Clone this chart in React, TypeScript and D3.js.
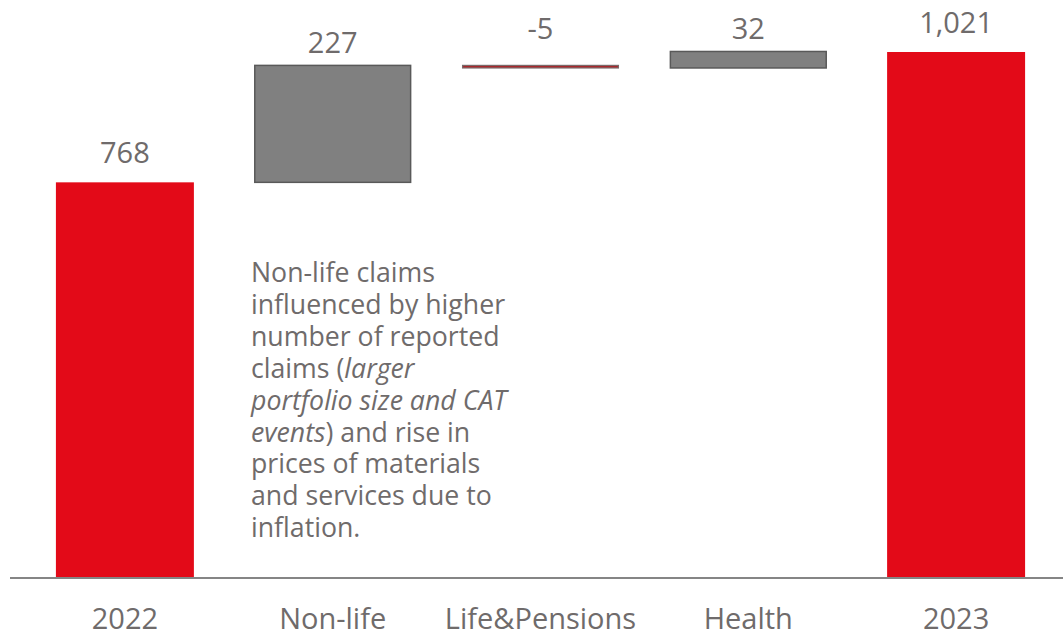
import React from "react";
import * as d3 from "d3";

const categories = ["2022", "Non-life", "Life&Pensions", "Health", "2023"];
const kinds = ["total", "delta", "delta", "delta", "total"];
const values = [768, 227, -5, 32, 1021];
const valueLabels = ["768", "227", "-5", "32", "1,021"];
const noteLines: { text: string; italic: boolean }[][] = [
  [{ text: "Non-life claims", italic: false }],
  [{ text: "influenced by higher", italic: false }],
  [{ text: "number of reported", italic: false }],
  [{ text: "claims (", italic: false }, { text: "larger", italic: true }],
  [{ text: "portfolio size and CAT", italic: true }],
  [{ text: "events", italic: true }, { text: ") and rise in", italic: false }],
  [{ text: "prices of materials", italic: false }],
  [{ text: "and services due to", italic: false }],
  [{ text: "inflation.", italic: false }],
];

const W = 1063;
const H = 635;
const FONT = "'Open Sans', sans-serif";
const RED = "#E30A18";
const GREY = "#808080";
const TEXT = "#6F6B6B";

export default function App() {
  const x = d3.scaleBand<string>().domain(categories).range([21, 1060]);
  const y = d3.scaleLinear().domain([0, 1021]).range([578, 52]);

  let running = 0;
  const bars = categories.map((c, i) => {
    let lo: number, hi: number;
    if (kinds[i] === "total") {
      lo = 0;
      hi = values[i];
      running = values[i];
    } else {
      const start = running;
      running = running + values[i];
      lo = Math.min(start, running);
      hi = Math.max(start, running);
    }
    const bw = x.bandwidth() * (kinds[i] === "total" ? 0.664 : 0.75);
    const cx = (x(c) as number) + x.bandwidth() / 2;
    return { c, i, lo, hi, bw, cx };
  });

  return (
    <svg width={W} height={H} style={{ display: "block", position: "absolute", left: 0, top: 0 }}>
      <rect width={W} height={H} fill="#fff" />
      {bars.map((b) => {
        const top = y(b.hi);
        const bot = y(b.lo);
        const total = kinds[b.i] === "total";
        const neg = values[b.i] < 0;
        const gap = total ? 19 : neg ? 26 : 12;
        return (
          <g key={b.c}>
            {total ? (
              <rect x={b.cx - b.bw / 2} y={top} width={b.bw} height={bot - top} fill={RED} />
            ) : neg ? (
              <rect
                x={b.cx - b.bw / 2}
                y={top}
                width={b.bw}
                height={Math.max(bot - top, 1)}
                fill="#A8282C"
                stroke="#7a6a6a"
                strokeWidth={1.2}
              />
            ) : (
              <rect
                x={b.cx - b.bw / 2}
                y={top}
                width={b.bw}
                height={bot - top}
                fill={GREY}
                stroke="#595959"
                strokeWidth={1.5}
              />
            )}
            <text
              x={b.cx}
              y={top - gap}
              textAnchor="middle"
              fontFamily={FONT}
              fontSize={29}
              fill={TEXT}
            >
              {valueLabels[b.i]}
            </text>
            <text
              x={b.cx}
              y={629}
              textAnchor="middle"
              fontFamily={FONT}
              fontSize={29}
              fill={TEXT}
            >
              {b.c}
            </text>
          </g>
        );
      })}
      <line x1={10} x2={1063} y1={578} y2={578} stroke="#858585" strokeWidth={2} />
      <text fontFamily={FONT} fontSize={26.7} fill={TEXT}>
        {noteLines.map((line, li) => (
          <tspan key={li} x={251} y={282 + li * 31.9}>
            {line.map((seg, si) => (
              <tspan key={si} fontStyle={seg.italic ? "italic" : "normal"}>
                {seg.text}
              </tspan>
            ))}
          </tspan>
        ))}
      </text>
    </svg>
  );
}
